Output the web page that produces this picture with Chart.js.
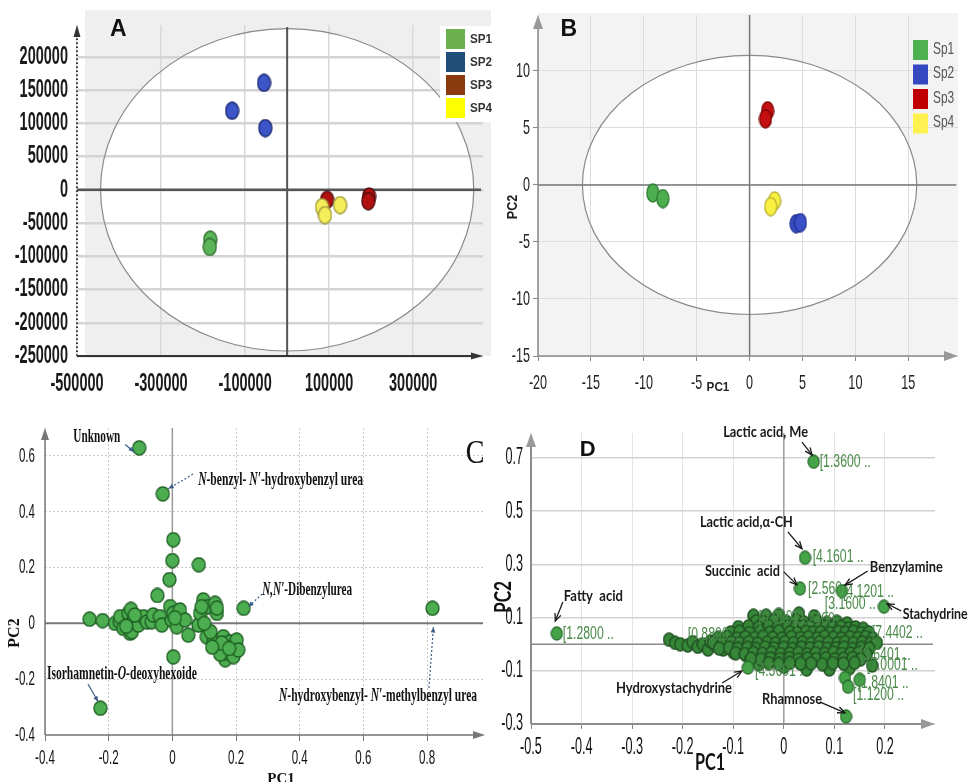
<!DOCTYPE html>
<html>
<head>
<meta charset="utf-8">
<script src="https://cdn.jsdelivr.net/npm/chart.js@4.4.1/dist/chart.umd.min.js"></script>
<style>
  html, body { margin: 0; padding: 0; background: #fff; }
  body { width: 969px; height: 782px; position: relative; overflow: hidden; }
  canvas { position: absolute; }
</style>
</head>
<body>
<canvas id="chartA" width="492" height="395" style="left:0;top:0"></canvas>
<canvas id="chartB" width="484" height="395" style="left:485px;top:0"></canvas>
<canvas id="chartC" width="490" height="392" style="left:0;top:390px"></canvas>
<canvas id="chartD" width="479" height="392" style="left:490px;top:390px"></canvas>
<script>
// ---- panel A : PCA scores (raw) ----
const aXTicks = [-500000, -300000, -100000, 100000, 300000]
const aYTicks = [200000, 150000, 100000, 50000, 0, -50000, -100000, -150000, -200000, -250000]
const aSP1 = [[-183000, -75000], [-184000, -86000]]
const aSP2 = [[-131000, 119000], [-55000, 161000], [-52000, 93000]]
const aSP3 = [[95000, -15000], [195000, -10000], [193000, -17000]]
const aSP4 = [[83000, -26000], [90000, -38000], [126000, -23000]]
const aEllipse = [444000, 242500]
const aLabels = ["SP1", "SP2", "SP3", "SP4"]

// ---- panel B : PCA scores (scaled) ----
const bXTicks = [-20, -15, -10, -5, 0, 5, 10, 15]
const bYTicks = [10, 5, 0, -5, -10, -15]
const bSp1 = [[-9.15, -0.7], [-8.2, -1.2]]
const bSp2 = [[4.4, -3.4], [4.8, -3.3]]
const bSp3 = [[1.7, 6.5], [1.5, 5.8]]
const bSp4 = [[2.36, -1.4], [2.0, -1.9]]
const bEllipse = [15.8, 11.36]
const bLabels = ["Sp1", "Sp2", "Sp3", "Sp4"]

// ---- panel C : loadings ----
const cXTicks = [-0.4, -0.2, 0, 0.2, 0.4, 0.6, 0.8]
const cYTicks = [0.6, 0.4, 0.2, 0, -0.2, -0.4]
const cLoadings = [
  [-0.104, 0.629], [-0.03, 0.464], [0.003, 0.30], [0.0, 0.225], [-0.009, 0.157], [0.083, 0.21],
  [-0.047, 0.10], [0.224, 0.054], [0.817, 0.054], [-0.226, -0.304], [0.003, -0.12],
  [-0.26, 0.015], [-0.219, 0.01], [-0.18, 0.0], [-0.165, 0.005], [-0.164, 0.024], [-0.154, -0.018],
  [-0.138, 0.036], [-0.133, -0.035], [-0.13, 0.05], [-0.127, -0.03], [-0.122, 0.012], [-0.107, -0.006],
  [-0.091, 0.024], [-0.08, 0.005], [-0.065, 0.006], [-0.06, 0.03], [-0.039, 0.024], [-0.033, -0.006],
  [-0.007, 0.06], [-0.002, 0.012], [0.003, 0.036], [0.014, -0.012], [0.024, 0.048], [0.04, 0.012],
  [0.05, -0.042], [0.082, -0.006], [0.087, 0.036], [0.097, 0.084], [0.113, 0.06], [0.134, 0.072],
  [0.14, 0.036], [0.14, 0.055], [0.108, -0.048], [0.129, -0.066], [0.145, -0.089], [0.16, -0.048],
  [0.166, -0.13], [0.171, -0.107], [0.181, -0.066], [0.192, -0.119], [0.197, -0.078], [0.202, -0.06],
  [0.207, -0.095], [0.15, -0.11], [0.12, -0.03], [0.1, 0.0], [-0.145, -0.01], [-0.118, 0.03],
  [0.008, 0.02], [0.155, -0.07], [0.178, -0.09], [0.125, -0.085], [0.092, 0.06]
]

// ---- panel D : NMR loadings ----
const dXTicks = [-0.5, -0.4, -0.3, -0.2, -0.1, 0, 0.1, 0.2]
const dYTicks = [0.7, 0.5, 0.3, 0.1, -0.1, -0.3]
const dMarked = [
  [0.059, 0.686], [0.042, 0.325], [0.032, 0.209], [0.115, 0.2], [0.198, 0.141], [-0.449, 0.04],
  [-0.071, -0.088], [0.123, -0.272], [0.121, -0.127], [0.127, -0.16], [0.15, -0.134]
]
const dTail = [
  [-0.227, 0.017], [-0.215, 0.005], [-0.205, 0.0], [-0.19, -0.005], [-0.18, 0.008], [-0.17, -0.01],
  [-0.16, 0.0], [-0.15, -0.02], [-0.145, 0.01], [-0.135, -0.005], [-0.125, 0.015], [-0.12, -0.02],
  [-0.11, 0.0], [-0.1, 0.02], [-0.1, -0.03], [-0.09, 0.03], [-0.085, -0.01], [-0.08, 0.045],
  [-0.075, -0.04], [-0.06, 0.107], [-0.035, 0.107], [-0.01, 0.11], [0.03, 0.115], [0.06, 0.105],
  [-0.05, -0.075], [0.0, -0.085], [0.045, -0.095], [0.09, -0.095], [0.13, -0.09], [0.175, -0.08]
]
const dCore = [
  [-0.055, 0.086], [-0.04, 0.083], [-0.02, 0.088], [0.005, 0.084], [0.025, 0.09], [0.04, 0.082],
  [0.065, 0.087], [0.085, 0.08], [0.105, 0.084], [0.125, 0.078],
  [-0.09, 0.064], [-0.07, 0.067], [-0.05, 0.062], [-0.03, 0.068], [-0.012, 0.063], [0.008, 0.066],
  [0.022, 0.061], [0.038, 0.067], [0.052, 0.064], [0.068, 0.06], [0.083, 0.066], [0.097, 0.062],
  [0.113, 0.065], [0.128, 0.059], [0.142, 0.063], [0.157, 0.058],
  [-0.105, 0.044], [-0.088, 0.047], [-0.068, 0.042], [-0.047, 0.046], [-0.028, 0.043], [-0.01, 0.048],
  [0.012, 0.044], [0.027, 0.041], [0.044, 0.047], [0.058, 0.043], [0.073, 0.045], [0.091, 0.042],
  [0.108, 0.046], [0.122, 0.043], [0.138, 0.047], [0.153, 0.041], [0.168, 0.044],
  [-0.13, 0.024], [-0.112, 0.027], [-0.093, 0.022], [-0.076, 0.026], [-0.058, 0.023], [-0.041, 0.028],
  [-0.022, 0.024], [-0.004, 0.021], [0.015, 0.027], [0.033, 0.023], [0.049, 0.026], [0.066, 0.022],
  [0.081, 0.028], [0.098, 0.024], [0.114, 0.021], [0.131, 0.026], [0.147, 0.023], [0.162, 0.027],
  [0.176, 0.022],
  [-0.14, 0.006], [-0.122, 0.003], [-0.104, 0.007], [-0.087, 0.004], [-0.069, 0.008], [-0.052, 0.002],
  [-0.033, 0.006], [-0.016, 0.003], [0.002, 0.007], [0.019, 0.004], [0.037, 0.006], [0.054, 0.002],
  [0.071, 0.007], [0.088, 0.005], [0.106, 0.003], [0.121, 0.008], [0.138, 0.004], [0.155, 0.006],
  [0.171, 0.002], [0.184, 0.005],
  [-0.128, -0.016], [-0.108, -0.013], [-0.091, -0.017], [-0.072, -0.014], [-0.055, -0.018], [-0.037, -0.012],
  [-0.019, -0.016], [0.0, -0.014], [0.017, -0.018], [0.035, -0.013], [0.052, -0.016], [0.069, -0.012],
  [0.086, -0.017], [0.103, -0.015], [0.119, -0.013], [0.136, -0.018], [0.153, -0.014], [0.169, -0.016],
  [-0.095, -0.034], [-0.077, -0.037], [-0.06, -0.033], [-0.042, -0.036], [-0.024, -0.032], [-0.006, -0.037],
  [0.012, -0.035], [0.029, -0.033], [0.046, -0.038], [0.063, -0.034], [0.081, -0.036], [0.098, -0.032],
  [0.115, -0.037], [0.132, -0.035], [0.148, -0.033], [0.164, -0.038],
  [-0.065, -0.054], [-0.045, -0.057], [-0.026, -0.053], [-0.008, -0.056], [0.011, -0.052], [0.028, -0.058],
  [0.047, -0.054], [0.064, -0.056], [0.083, -0.053], [0.101, -0.057], [0.118, -0.055], [0.136, -0.052],
  [0.152, -0.057],
  [-0.03, -0.071], [-0.01, -0.074], [0.012, -0.07], [0.033, -0.073], [0.054, -0.072], [0.076, -0.075],
  [0.097, -0.071], [0.118, -0.073], [0.14, -0.07]
]

// annotation texts (positions in data units)
const cNotes = [
  { seg: [["Unknown"]], at: [-0.311, 0.667], w: 47, from: [-0.148, 0.641], to: [-0.12, 0.614], dash: [] },
  { seg: [["N", 1], ["-benzyl- "], ["N′", 1], ["-hydroxybenzyl urea"]], at: [0.081, 0.514], w: 165, from: [0.065, 0.535], to: [-0.013, 0.482], dash: [2, 2] },
  { seg: [["N,N′", 1], ["-Dibenzylurea"]], at: [0.282, 0.12], w: 90, from: [0.282, 0.105], to: [0.238, 0.059], dash: [2, 2] },
  { seg: [["Isorhamnetin-"], ["O", 1], ["-deoxyhexoide"]], at: [-0.394, -0.181], w: 150, from: [-0.265, -0.217], to: [-0.233, -0.281], dash: [] },
  { seg: [["N", 1], ["-hydroxybenzyl- "], ["N′", 1], ["-methylbenzyl urea"]], at: [0.335, -0.26], w: 198, from: [0.806, -0.231], to: [0.82, -0.013], dash: [2, 2] }
]
const dNotes = [
  { text: "Lactic acid, Me", at: [-0.12, 0.80], w: 85, from: [0.036, 0.76], to: [0.056, 0.711] },
  { text: "Lactic acid,α-CH", at: [-0.166, 0.459], w: 93, from: [0.008, 0.422], to: [0.036, 0.359] },
  { text: "Succinic  acid", at: [-0.156, 0.275], w: 75, from: [0.0, 0.272], to: [0.026, 0.223] },
  { text: "Benzylamine", at: [0.17, 0.29], w: 73, from: [0.166, 0.275], to: [0.121, 0.222] },
  { text: "Stachydrine", at: [0.235, 0.114], w: 65, from: [0.232, 0.125], to: [0.204, 0.152] },
  { text: "Fatty  acid", at: [-0.435, 0.181], w: 59, from: [-0.437, 0.159], to: [-0.452, 0.087] },
  { text: "Hydroxystachydrine", at: [-0.332, -0.165], w: 116, from: [-0.122, -0.146], to: [-0.083, -0.101] },
  { text: "Rhamnose", at: [-0.043, -0.206], w: 60, from: [0.071, -0.217], to: [0.121, -0.258] }
]
const dShifts = [
  ["[1.3600 ..", 0.071, 0.685], ["[4.1601 ..", 0.057, 0.328], ["[2.560", 0.048, 0.208],
  ["[4.1201 ..", 0.117, 0.196], ["[3.1600 ..", 0.081, 0.151], ["[1.2800 ..", -0.437, 0.038],
  ["[4.5601 ..", -0.057, -0.101], ["[7.4402 ..", 0.174, 0.042], ["[7.0001 ..", 0.164, -0.078],
  ["[1.8401 ..", 0.146, -0.146], ["[1.1200 ..", 0.137, -0.191], ["[0.8800 ..", -0.19, 0.033],
  ["[3.6401 ..", 0.15, -0.04], ["[0.9201 ..", -0.05, 0.1], ["[3.2400 ..", 0.02, 0.09]
]

// ---------- helpers ----------
const pts = arr => arr.map(([x, y]) => ({ x, y }))

function dot(fill, stroke, w, h, lw) {
  const c = document.createElement("canvas")
  c.width = w + 2; c.height = h + 2
  const g = c.getContext("2d")
  g.beginPath()
  g.ellipse(c.width / 2, c.height / 2, w / 2, h / 2, 0, 0, Math.PI * 2)
  g.fillStyle = fill; g.fill()
  g.lineWidth = lw || 1.3; g.strokeStyle = stroke; g.stroke()
  return c
}

function text(ctx, str, x, y, o) {
  ctx.save()
  ctx.font = o.font
  ctx.fillStyle = o.color || "#111"
  ctx.textBaseline = "middle"
  const w = ctx.measureText(str).width
  const sx = o.w ? o.w / w : (o.sx || 1)
  ctx.translate(x, y)
  if (o.rot) ctx.rotate(o.rot)
  ctx.scale(sx, 1)
  ctx.textAlign = o.align || "left"
  ctx.fillText(str, 0, 0)
  ctx.restore()
}

// mixed upright / italic text squeezed to a target width
function rich(ctx, seg, x, y, size, w) {
  const f = it => `bold ${it ? "italic " : ""}${size}px "Liberation Serif"`
  let total = 0
  seg.forEach(s => { ctx.font = f(s[1]); total += ctx.measureText(s[0]).width })
  ctx.save()
  ctx.translate(x, y)
  ctx.scale(w / total, 1)
  ctx.fillStyle = "#111"
  ctx.textBaseline = "middle"
  let cx = 0
  seg.forEach(s => { ctx.font = f(s[1]); ctx.fillText(s[0], cx, 0); cx += ctx.measureText(s[0]).width })
  ctx.restore()
}

function arrow(ctx, x1, y1, x2, y2, o) {
  ctx.save()
  ctx.strokeStyle = o.color; ctx.fillStyle = o.color; ctx.lineWidth = o.lw || 1
  ctx.setLineDash(o.dash || [])
  ctx.beginPath(); ctx.moveTo(x1, y1); ctx.lineTo(x2, y2); ctx.stroke()
  ctx.setLineDash([])
  const a = Math.atan2(y2 - y1, x2 - x1), h = o.head || 7, s = o.spread || 0.4
  ctx.beginPath()
  ctx.moveTo(x2 - h * Math.cos(a - s), y2 - h * Math.sin(a - s))
  ctx.lineTo(x2, y2)
  ctx.lineTo(x2 - h * Math.cos(a + s), y2 - h * Math.sin(a + s))
  if (o.open) { ctx.stroke() } else { ctx.closePath(); ctx.fill() }
  ctx.restore()
}

function axes(ch, o) {
  const a = ch.chartArea, ctx = ch.ctx
  ctx.save()
  ctx.strokeStyle = o.color; ctx.lineWidth = o.lw
  ctx.setLineDash(o.yDash || [])
  ctx.beginPath(); ctx.moveTo(a.left, a.bottom); ctx.lineTo(a.left, a.top + 4); ctx.stroke()
  ctx.setLineDash([])
  ctx.beginPath(); ctx.moveTo(a.left, a.bottom); ctx.lineTo(a.right - 4, a.bottom); ctx.stroke()
  ctx.fillStyle = o.head
  ctx.beginPath(); ctx.moveTo(a.left, a.top); ctx.lineTo(a.left - o.hw, a.top + o.hl); ctx.lineTo(a.left + o.hw, a.top + o.hl); ctx.fill()
  ctx.beginPath(); ctx.moveTo(a.right, a.bottom); ctx.lineTo(a.right - o.hl, a.bottom - o.hw); ctx.lineTo(a.right - o.hl, a.bottom + o.hw); ctx.fill()
  ctx.restore()
}

function zeroLines(ch, o) {
  const a = ch.chartArea, ctx = ch.ctx
  const x0 = ch.scales.x.getPixelForValue(0), y0 = ch.scales.y.getPixelForValue(0)
  ctx.save()
  ctx.strokeStyle = o.vColor; ctx.lineWidth = o.vw
  ctx.beginPath(); ctx.moveTo(x0, a.top + (o.vTop || 0)); ctx.lineTo(x0, a.bottom); ctx.stroke()
  ctx.strokeStyle = o.hColor; ctx.lineWidth = o.hw
  ctx.beginPath(); ctx.moveTo(a.left, y0); ctx.lineTo(a.right - 2, y0); ctx.stroke()
  ctx.restore()
}

function tickLabels(ch, o) {
  const a = ch.chartArea, ctx = ch.ctx
  ch.scales.x.ticks.forEach(t => {
    text(ctx, String(t.value), ch.scales.x.getPixelForValue(t.value), a.bottom + o.xOff, { font: o.font, color: o.color, sx: o.sx, align: "center" })
  })
  ch.scales.y.ticks.forEach(t => {
    text(ctx, String(t.value), a.left - o.yOff, ch.scales.y.getPixelForValue(t.value), { font: o.font, color: o.color, sx: o.sx, align: "right" })
  })
}

function ellipse(ch, r) {
  const sx = ch.scales.x, sy = ch.scales.y
  const cx = sx.getPixelForValue(0), cy = sy.getPixelForValue(0)
  ch.ctx.beginPath()
  ch.ctx.ellipse(cx, cy, sx.getPixelForValue(r[0]) - cx, cy - sy.getPixelForValue(r[1]), 0, 0, Math.PI * 2)
}

function makeChart(id, cfg) {
  return new Chart(document.getElementById(id), {
    type: "scatter",
    data: { datasets: cfg.datasets },
    options: {
      responsive: false,
      animation: false,
      devicePixelRatio: 1,
      events: [],
      layout: { autoPadding: false, padding: { left: 0, top: cfg.pad[0], right: cfg.pad[1], bottom: 0 } },
      plugins: { legend: { display: false }, tooltip: { enabled: false } },
      scales: {
        x: {
          type: "linear", min: cfg.x[0], max: cfg.x[1],
          afterBuildTicks: s => { s.ticks = cfg.xTicks.map(v => ({ value: v })) },
          afterFit: s => { s.height = cfg.xH },
          ticks: { display: false },
          border: { display: false, dash: cfg.dash || [] },
          grid: cfg.xGrid
        },
        y: {
          type: "linear", min: cfg.y[0], max: cfg.y[1],
          afterBuildTicks: s => { s.ticks = cfg.yTicks.map(v => ({ value: v })) },
          afterFit: s => { s.width = cfg.yW },
          ticks: { display: false },
          border: { display: false, dash: cfg.dash || [] },
          grid: cfg.yGrid
        }
      }
    },
    plugins: [cfg.plugin]
  })
}

// ---------- A ----------
const aColors = [["#5db55a", "#2f6e2f"], ["#3c55c8", "#17256e"], ["#b01010", "#4a0a0a"], ["#f4ee5a", "#a09a3a"]]
const aKeys = ["#6ab04c", "#1f4e79", "#8b3a0f", "#ffff00"]
makeChart("chartA", {
  pad: [25, 9], xH: 39, yW: 77,
  x: [-500000, 466000], y: [-250000, 248000], xTicks: aXTicks, yTicks: aYTicks,
  xGrid: { color: "#d9d9d9", lineWidth: 1.5, drawTicks: false },
  yGrid: { color: "#d4d4d4", lineWidth: 2.5, drawTicks: false },
  datasets: [aSP1, aSP2, aSP3, aSP4].map((d, i) => ({
    label: aLabels[i], data: pts(d), pointStyle: dot(aColors[i][0], aColors[i][1], 13, 17), pointRadius: 8, order: 4 - i
  })),
  plugin: {
    id: "decorA",
    beforeDraw(ch) {
      const a = ch.chartArea, ctx = ch.ctx
      ctx.save()
      ctx.fillStyle = "#efefef"
      ctx.fillRect(a.left + 8, a.top - 15, a.right - a.left, a.bottom - a.top + 15)
      ellipse(ch, aEllipse); ctx.fillStyle = "#fff"; ctx.fill()
      ctx.restore()
    },
    beforeDatasetsDraw(ch) {
      const ctx = ch.ctx
      ctx.save(); ellipse(ch, aEllipse); ctx.strokeStyle = "#8a8a8a"; ctx.lineWidth = 1.2; ctx.stroke(); ctx.restore()
      zeroLines(ch, { vColor: "#555", vw: 2, hColor: "#555", hw: 2.5, vTop: 2 })
      axes(ch, { color: "#333", lw: 2, yDash: [1.5, 2.5], head: "#333", hw: 3.5, hl: 12 })
    },
    afterDraw(ch) {
      const a = ch.chartArea, ctx = ch.ctx
      tickLabels(ch, { font: 'bold 25px "Liberation Sans"', color: "#1a1a1a", sx: 0.58, xOff: 28, yOff: 9 })
      text(ctx, "A", ch.scales.x.getPixelForValue(-402000), ch.scales.y.getPixelForValue(241000), { font: 'bold 23px "Liberation Sans"', align: "center" })
      ctx.fillStyle = "#fff"
      ctx.fillRect(a.right - 43, a.top + 1, 52, 96)
      aLabels.forEach((l, i) => {
        ctx.fillStyle = aKeys[i]
        ctx.fillRect(a.right - 37, a.top + 4 + i * 23, 19, 20)
        text(ctx, l, a.right - 13, a.top + 14 + i * 23, { font: 'bold 13px "Liberation Sans"', color: "#333", sx: 0.9 })
      })
    }
  }
})

// ---------- B ----------
const bColors = [["#4cae4f", "#2d7a30"], ["#3b4fc8", "#233090"], ["#c41010", "#7a0000"], ["#f8f040", "#b8b030"]]
const bKeys = ["#4db14f", "#3548c0", "#c00000", "#fff250"]
makeChart("chartB", {
  pad: [15, 11], xH: 39, yW: 53,
  x: [-20, 19.7], y: [-15, 14.9], xTicks: bXTicks, yTicks: bYTicks,
  xGrid: { color: "#dcdcdc", lineWidth: 1, tickColor: "#888", tickLength: 5 },
  yGrid: { color: "#dcdcdc", lineWidth: 1, tickColor: "#888", tickLength: 5 },
  datasets: [bSp1, bSp2, bSp3, bSp4].map((d, i) => ({
    label: bLabels[i], data: pts(d), pointStyle: dot(bColors[i][0], bColors[i][1], 12, 18), pointRadius: 8, order: 4 - i
  })),
  plugin: {
    id: "decorB",
    beforeDraw(ch) {
      const a = ch.chartArea, ctx = ch.ctx
      ctx.save()
      ctx.fillStyle = "#f3f3f3"
      ctx.fillRect(a.left, a.top - 2, a.right - a.left, a.bottom - a.top + 2)
      ellipse(ch, bEllipse); ctx.fillStyle = "#fff"; ctx.fill()
      ctx.restore()
    },
    beforeDatasetsDraw(ch) {
      const ctx = ch.ctx
      ctx.save(); ellipse(ch, bEllipse); ctx.strokeStyle = "#8a8a8a"; ctx.lineWidth = 1.2; ctx.stroke(); ctx.restore()
      zeroLines(ch, { vColor: "#777", vw: 1.5, hColor: "#777", hw: 1.5 })
      axes(ch, { color: "#888", lw: 1.5, head: "#999", hw: 5, hl: 14 })
    },
    afterDraw(ch) {
      const a = ch.chartArea, ctx = ch.ctx
      tickLabels(ch, { font: '21px "Liberation Sans"', color: "#222", sx: 0.6, xOff: 27, yOff: 8 })
      text(ctx, "B", ch.scales.x.getPixelForValue(-17.1), ch.scales.y.getPixelForValue(13.6), { font: 'bold 23px "Liberation Sans"', align: "center" })
      text(ctx, "PC2", 28, 207, { font: 'bold 14px "Liberation Sans"', color: "#222", rot: -Math.PI / 2, align: "center", sx: 0.9 })
      text(ctx, "PC1", 233, 387, { font: 'bold 13px "Liberation Sans"', color: "#222", align: "center", sx: 0.9 })
      bLabels.forEach((l, i) => {
        ctx.fillStyle = bKeys[i]
        ctx.fillRect(a.right - 45, a.top + 25 + i * 24.5, 15, 20)
        text(ctx, l, a.right - 25, a.top + 34 + i * 24.5, { font: '17px "Liberation Sans"', color: "#555", sx: 0.7 })
      })
    }
  }
})

// ---------- C ----------
makeChart("chartC", {
  pad: [38, 5], xH: 47, yW: 45,
  x: [-0.4, 0.982], y: [-0.4, 0.70], xTicks: cXTicks, yTicks: cYTicks, dash: [2, 2],
  xGrid: { color: "#c8c8c8", lineWidth: 1, tickColor: "#777", tickLength: 6 },
  yGrid: { color: "#c8c8c8", lineWidth: 1, drawTicks: false },
  datasets: [{ label: "loadings", data: pts(cLoadings), pointStyle: dot("#4cae50", "#1d5e22", 13, 14), pointRadius: 7 }],
  plugin: {
    id: "decorC",
    beforeDatasetsDraw(ch) {
      zeroLines(ch, { vColor: "#999", vw: 1.5, hColor: "#777", hw: 2 })
      axes(ch, { color: "#777", lw: 1.5, head: "#777", hw: 4, hl: 12 })
    },
    afterDraw(ch) {
      const ctx = ch.ctx, sx = ch.scales.x, sy = ch.scales.y
      tickLabels(ch, { font: '21px "Liberation Sans"', color: "#111", sx: 0.55, xOff: 23, yOff: 10 })
      cNotes.forEach(n => {
        rich(ctx, n.seg, sx.getPixelForValue(n.at[0]), sy.getPixelForValue(n.at[1]), 18, n.w)
        arrow(ctx, sx.getPixelForValue(n.from[0]), sy.getPixelForValue(n.from[1]), sx.getPixelForValue(n.to[0]), sy.getPixelForValue(n.to[1]),
          { color: "#3d5f86", lw: 1.2, dash: n.dash, head: 6 })
      })
      text(ctx, "C", sx.getPixelForValue(0.951), sy.getPixelForValue(0.604), { font: '33px "Liberation Serif"', align: "center", sx: 0.85 })
      text(ctx, "PC2", 15, 243, { font: 'bold 16px "Liberation Serif"', rot: -Math.PI / 2, align: "center" })
      text(ctx, "PC1", 281, 389, { font: 'bold 15px "Liberation Serif"', align: "center" })
    }
  }
})

// ---------- D ----------
makeChart("chartD", {
  pad: [43, 34], xH: 58, yW: 41,
  x: [-0.5, 0.299], y: [-0.3, 0.794], xTicks: dXTicks, yTicks: dYTicks,
  xGrid: { color: "#e4e4e4", lineWidth: 1, tickColor: "#888", tickLength: 5 },
  yGrid: { color: "#d2d2d2", lineWidth: 1.5, drawTicks: false },
  datasets: [
    { label: "marked", data: pts(dMarked), pointStyle: dot("#45a448", "#2a6b2d", 11, 13), pointRadius: 6 },
    { label: "core", data: pts(dTail.concat(dCore)), pointStyle: dot("#378739", "#225424", 11, 13, 1.6), pointRadius: 6 }
  ],
  plugin: {
    id: "decorD",
    beforeDatasetsDraw(ch) {
      zeroLines(ch, { vColor: "#9a9a9a", vw: 1.5, hColor: "#888", hw: 1.5 })
      axes(ch, { color: "#8c8c8c", lw: 2, head: "#999", hw: 5, hl: 14 })
    },
    afterDraw(ch) {
      const ctx = ch.ctx, sx = ch.scales.x, sy = ch.scales.y
      tickLabels(ch, { font: '23px "Liberation Sans"', color: "#111", sx: 0.55, xOff: 24, yOff: 8 })
      dShifts.forEach(s => {
        text(ctx, s[0], sx.getPixelForValue(s[1]), sy.getPixelForValue(s[2]), { font: '18px "Liberation Sans"', color: "#4a8a4a", sx: 0.68 })
      })
      dNotes.forEach(n => {
        text(ctx, n.text, sx.getPixelForValue(n.at[0]), sy.getPixelForValue(n.at[1]), { font: "bold 16px Lato", color: "#1a1a1a", w: n.w })
        arrow(ctx, sx.getPixelForValue(n.from[0]), sy.getPixelForValue(n.from[1]), sx.getPixelForValue(n.to[0]), sy.getPixelForValue(n.to[1]),
          { color: "#1a1a1a", lw: 1.3, head: 8, open: true })
      })
      text(ctx, "D", sx.getPixelForValue(-0.388), sy.getPixelForValue(0.73), { font: 'bold 22px "Liberation Sans"', align: "center" })
      text(ctx, "PC2", 14, 207, { font: "bold 22px Lato", rot: -Math.PI / 2, align: "center", w: 32 })
      text(ctx, "PC1", 220, 373, { font: "bold 22px Lato", align: "center", w: 30 })
    }
  }
})
</script>
</body>
</html>
